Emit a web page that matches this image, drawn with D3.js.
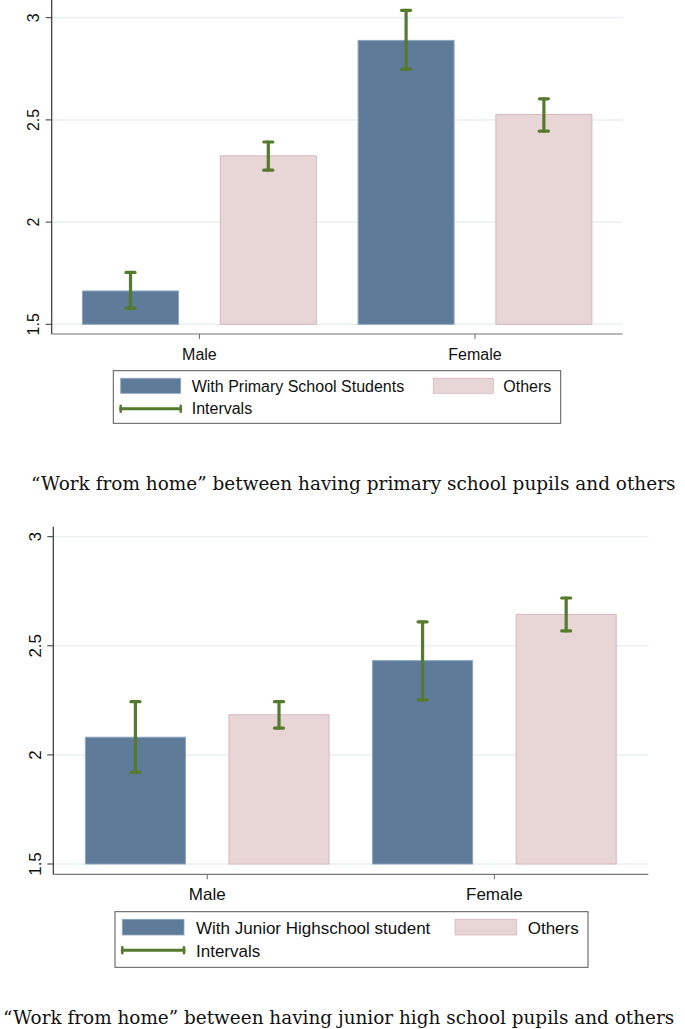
<!DOCTYPE html>
<html>
<head>
<meta charset="utf-8">
<script src="https://cdn.jsdelivr.net/npm/d3@7"></script>
<style>
  html, body { margin: 0; padding: 0; background: #fff; }
  svg { display: block; }
</style>
</head>
<body>
<svg id="chart" width="685" height="1029"></svg>
<script>
// ---------- data ----------
const categories = ["Male", "Female"];
const yTicks = [1.5, 2, 2.5, 3];

// Panel 1: primary school pupils
const primaryLabel = "With Primary School Students";
const primaryMean = [1.663, 2.889];
const primaryLo   = [1.578, 2.748];
const primaryHi   = [1.754, 3.036];
const others1Mean = [2.324, 2.526];
const others1Lo   = [2.254, 2.445];
const others1Hi   = [2.392, 2.603];
const caption1 = "\u201cWork from home\u201d between having primary school pupils and others";

// Panel 2: junior high school pupils
const juniorLabel = "With Junior Highschool student";
const juniorMean  = [2.081, 2.432];
const juniorLo    = [1.920, 2.252];
const juniorHi    = [2.244, 2.610];
const others2Mean = [2.184, 2.644];
const others2Lo   = [2.123, 2.568];
const others2Hi   = [2.244, 2.719];
const caption2 = "\u201cWork from home\u201d between having junior high school pupils and others";

const othersLabel = "Others";
const intervalsLabel = "Intervals";

// ---------- style ----------
const BLUE = "#5e7b9a", BLUE_EDGE = "#8ca5bd";
const PINK = "#e8d6d7", PINK_EDGE = "#d8b6ba";
const GREEN = "#557a2d";
const GRID = "#e9f1f3";
const SANS = "'Liberation Sans', Arial, Helvetica, sans-serif";
const SERIF = "'DejaVu Serif', 'Liberation Serif', serif";

const svg = d3.select("#chart");

function drawPanel(cfg) {
  const g = svg.append("g");
  const y = d3.scaleLinear().domain([1.5, 3]).range([cfg.yBottom, cfg.yTop]);

  const keys = [];
  categories.forEach((c, i) => {
    keys.push({ cat: c, i, s: 0 });
    keys.push({ cat: c, i, s: 1 });
  });
  const xb = d3.scaleBand()
    .domain(keys.map(k => k.cat + "|" + k.s))
    .range([cfg.x0, cfg.x1])
    .paddingInner(0.296)
    .paddingOuter(0.22);

  const series = [
    { mean: cfg.s0.mean, lo: cfg.s0.lo, hi: cfg.s0.hi, fill: BLUE, edge: BLUE_EDGE },
    { mean: cfg.s1.mean, lo: cfg.s1.lo, hi: cfg.s1.hi, fill: PINK, edge: PINK_EDGE }
  ];

  // gridlines
  g.append("g").selectAll("line").data(yTicks).join("line")
    .attr("x1", cfg.x0).attr("x2", cfg.x1)
    .attr("y1", d => y(d)).attr("y2", d => y(d))
    .attr("stroke", GRID).attr("stroke-width", 1.5);

  // bars
  g.append("g").selectAll("rect").data(keys).join("rect")
    .attr("x", k => xb(k.cat + "|" + k.s) + 0.5)
    .attr("width", xb.bandwidth() - 1)
    .attr("y", k => y(series[k.s].mean[k.i]))
    .attr("height", k => y(1.5) - y(series[k.s].mean[k.i]))
    .attr("fill", k => series[k.s].fill)
    .attr("stroke", k => series[k.s].edge)
    .attr("stroke-width", 1);

  // error bars
  const eb = g.append("g").attr("stroke", GREEN).attr("stroke-width", 3.2).attr("stroke-linecap", "round");
  keys.forEach(k => {
    const cx = xb(k.cat + "|" + k.s) + xb.bandwidth() / 2;
    const s = series[k.s];
    const yl = y(s.lo[k.i]), yh = y(s.hi[k.i]);
    eb.append("line").attr("x1", cx).attr("x2", cx).attr("y1", yl).attr("y2", yh);
    eb.append("line").attr("x1", cx - 4.5).attr("x2", cx + 4.5).attr("y1", yl).attr("y2", yl);
    eb.append("line").attr("x1", cx - 4.5).attr("x2", cx + 4.5).attr("y1", yh).attr("y2", yh);
  });

  // y axis
  g.append("line").attr("x1", cfg.x0).attr("x2", cfg.x0)
    .attr("y1", cfg.axisTop).attr("y2", cfg.xAxisY)
    .attr("stroke", "#333").attr("stroke-width", 1.2);
  g.append("g").selectAll("line").data(yTicks).join("line")
    .attr("x1", cfg.x0 - 6).attr("x2", cfg.x0)
    .attr("y1", d => y(d)).attr("y2", d => y(d))
    .attr("stroke", "#333").attr("stroke-width", 1);
  g.append("g").selectAll("text").data(yTicks).join("text")
    .attr("transform", d => `translate(${cfg.x0 - 12.5},${y(d)}) rotate(-90)`)
    .attr("text-anchor", "middle")
    .attr("font-family", SANS).attr("font-size", cfg.tickFont)
    .attr("fill", "#111")
    .text(d => d3.format("")(d));

  // x axis
  g.append("line").attr("x1", cfg.x0).attr("x2", cfg.x1)
    .attr("y1", cfg.xAxisY).attr("y2", cfg.xAxisY)
    .attr("stroke", "#777").attr("stroke-width", 1.2);
  const catCenter = i => (xb(categories[i] + "|0") + xb(categories[i] + "|1") + xb.bandwidth()) / 2;
  categories.forEach((c, i) => {
    const cx = catCenter(i);
    g.append("line").attr("x1", cx).attr("x2", cx)
      .attr("y1", cfg.xAxisY).attr("y2", cfg.xAxisY + 5)
      .attr("stroke", "#666").attr("stroke-width", 1);
    g.append("text").attr("x", cx).attr("y", cfg.catLabelY)
      .attr("text-anchor", "middle")
      .attr("font-family", SANS).attr("font-size", cfg.labelFont)
      .attr("fill", "#111").text(c);
  });

  // legend
  const L = cfg.legend;
  g.append("rect").attr("x", L.x).attr("y", L.y).attr("width", L.w).attr("height", L.h)
    .attr("fill", "#fff").attr("stroke", "#555").attr("stroke-width", 1);
  g.append("rect").attr("x", L.sw1x).attr("y", L.swy).attr("width", L.sww).attr("height", L.swh)
    .attr("fill", BLUE).attr("stroke", BLUE_EDGE).attr("stroke-width", 0.8);
  g.append("text").attr("x", L.t1x).attr("y", L.row1).attr("font-family", SANS)
    .attr("font-size", cfg.labelFont).attr("fill", "#111").text(cfg.s0.label);
  g.append("rect").attr("x", L.sw2x).attr("y", L.swy).attr("width", L.sww).attr("height", L.swh)
    .attr("fill", PINK).attr("stroke", PINK_EDGE).attr("stroke-width", 0.8);
  g.append("text").attr("x", L.t2x).attr("y", L.row1).attr("font-family", SANS)
    .attr("font-size", cfg.labelFont).attr("fill", "#111").text(cfg.s1.label);
  const li = g.append("g").attr("stroke", GREEN).attr("stroke-linecap", "round");
  li.append("line").attr("x1", L.sw1x).attr("x2", L.sw1x + L.sww)
    .attr("y1", L.liney).attr("y2", L.liney).attr("stroke-width", 3);
  [L.sw1x, L.sw1x + L.sww].forEach(xx => {
    li.append("line").attr("x1", xx).attr("x2", xx)
      .attr("y1", L.liney - 3).attr("y2", L.liney + 3).attr("stroke-width", 2.5);
  });
  g.append("text").attr("x", L.t1x).attr("y", L.row2).attr("font-family", SANS)
    .attr("font-size", cfg.labelFont).attr("fill", "#111").text(intervalsLabel);

  // caption: fit font size to the target width (no glyph stretching)
  const cap = g.append("text").attr("x", cfg.capX).attr("y", cfg.capY)
    .attr("font-family", SERIF).attr("font-size", 20)
    .attr("fill", "#111").text(cfg.caption);
  const w = cap.node().getComputedTextLength();
  cap.attr("font-size", 20 * cfg.capW / w);
}

drawPanel({
  x0: 51.7, x1: 622.7, yTop: 17.7, yBottom: 324.3, xAxisY: 334, axisTop: 0,
  tickFont: 16, labelFont: 16, catLabelY: 359.5,
  s0: { label: primaryLabel, mean: primaryMean, lo: primaryLo, hi: primaryHi },
  s1: { label: othersLabel, mean: others1Mean, lo: others1Lo, hi: others1Hi },
  legend: { x: 113.3, y: 370.7, w: 447.4, h: 52.6,
            sw1x: 120.7, sw2x: 433.3, swy: 378.3, sww: 60, swh: 15,
            t1x: 191.7, t2x: 503.3, row1: 392, row2: 414.3, liney: 408.7 },
  caption: caption1, capX: 31, capY: 490, capW: 645
});

drawPanel({
  x0: 53.3, x1: 648.3, yTop: 536.7, yBottom: 864, xAxisY: 874.3, axisTop: 526.7,
  tickFont: 17, labelFont: 17, catLabelY: 900,
  s0: { label: juniorLabel, mean: juniorMean, lo: juniorLo, hi: juniorHi },
  s1: { label: othersLabel, mean: others2Mean, lo: others2Lo, hi: others2Hi },
  legend: { x: 115, y: 911.7, w: 473, h: 55.6,
            sw1x: 122.3, sw2x: 455, swy: 919.3, sww: 61.7, swh: 15.7,
            t1x: 196, t2x: 527.7, row1: 934, row2: 956.7, liney: 950.3 },
  caption: caption2, capX: 3, capY: 1024, capW: 672
});
</script>
</body>
</html>
